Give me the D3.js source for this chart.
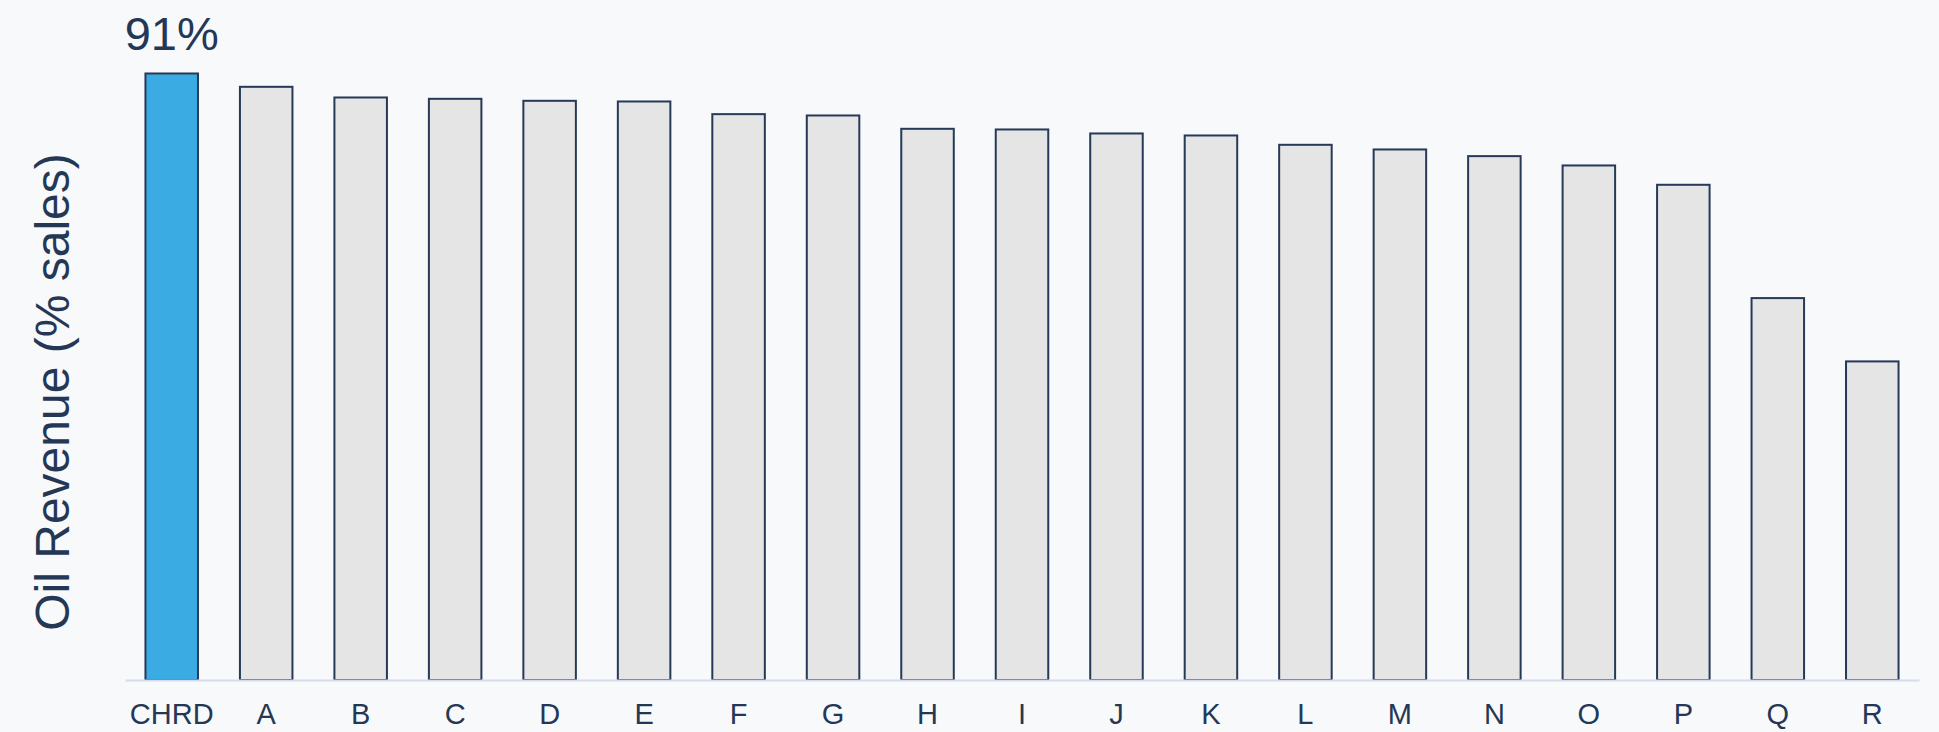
<!DOCTYPE html>
<html>
<head>
<meta charset="utf-8">
<script src="https://cdn.jsdelivr.net/npm/d3@7"></script>
<style>
  html, body { margin: 0; padding: 0; background: #f8f9fb; }
  svg { display: block; font-family: "Liberation Sans", Arial, sans-serif; }
</style>
</head>
<body>
<svg id="chart" width="1939" height="732"></svg>
<script>
// Oil share of revenue by company (% of sales)
const companies = ["CHRD", "A", "B", "C", "D", "E", "F", "G", "H", "I", "J", "K", "L", "M", "N", "O", "P", "Q", "R"];
const oilShare = [91, 89.0, 87.4, 87.2, 86.9, 86.8, 84.9, 84.7, 82.7, 82.6, 82.0, 81.7, 80.3, 79.6, 78.6, 77.2, 74.3, 57.3, 47.8];
const highlight = "CHRD";
const yTitle = "Oil Revenue (% sales)";

const ink = "#243856";
const svg = d3.select("#chart");

const x = d3.scaleBand()
  .domain(companies)
  .range([125, 1919])
  .paddingInner(0.423)
  .paddingOuter(0.206);

const y = d3.scaleLinear()
  .domain([0, 100])
  .range([680, 13.5]);

// bars
svg.append("g")
  .selectAll("rect")
  .data(companies)
  .join("rect")
  .attr("x", d => x(d) + 1)
  .attr("width", x.bandwidth() - 2)
  .attr("y", (d, i) => y(oilShare[i]))
  .attr("height", (d, i) => y(0) - y(oilShare[i]))
  .attr("fill", d => d === highlight ? "#3aabe3" : "#e5e5e5")
  .attr("stroke", "#263957")
  .attr("stroke-width", 2);

// category axis along the baseline
const xAxis = svg.append("g")
  .attr("transform", `translate(0,${y(0)})`)
  .call(d3.axisBottom(x).tickSize(0).tickSizeOuter(0));
xAxis.select(".domain").attr("stroke", "#d5dcea").attr("stroke-width", 2);
xAxis.selectAll("text")
  .attr("y", 44)
  .attr("dy", 0)
  .attr("fill", ink)
  .style("font-size", "29px")
  .style("font-family", "'Liberation Sans', Arial, sans-serif");

// value label on the highlighted bar
const hi = companies.indexOf(highlight);
svg.append("text")
  .attr("x", x(highlight) + x.bandwidth() / 2)
  .attr("y", y(oilShare[hi]) - 23)
  .attr("text-anchor", "middle")
  .attr("fill", ink)
  .style("font-size", "47px")
  .text(oilShare[hi] + "%");

// y-axis title
svg.append("text")
  .attr("transform", "rotate(-90)")
  .attr("x", -392)
  .attr("y", 69)
  .attr("text-anchor", "middle")
  .attr("fill", ink)
  .style("font-size", "48px")
  .text(yTitle);
</script>
</body>
</html>
